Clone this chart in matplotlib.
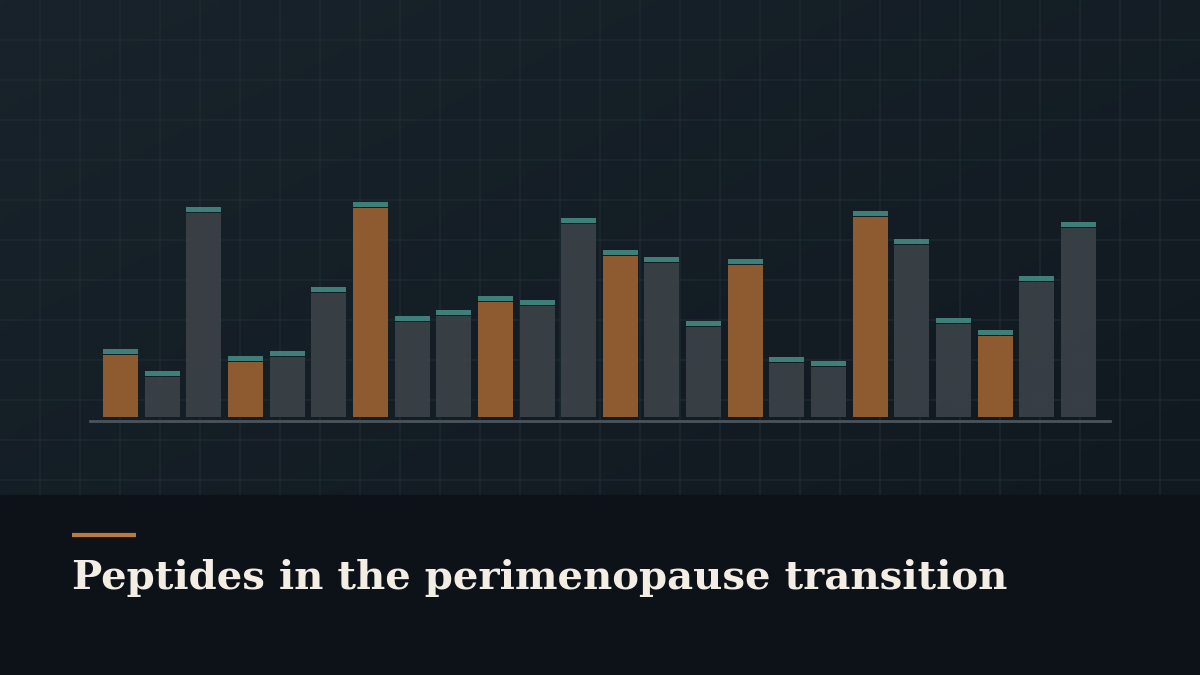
import matplotlib
matplotlib.use("Agg")
import matplotlib.pyplot as plt
import numpy as np

# bar heights (baseline -> top of cap), 24 bars, every third one highlighted
values = [68, 46, 210, 61, 66, 130, 215, 101, 107, 121, 117, 199,
          167, 160, 96, 158, 60, 56, 206, 178, 99, 87, 141, 195]
highlight = [i % 3 == 0 for i in range(len(values))]
title = "Peptides in the perimenopause transition"

W, H = 1200, 675
fig = plt.figure(figsize=(12, 6.75), dpi=100)

# background in pixel coordinates
bg = fig.add_axes([0, 0, 1, 1])
bg.set_xlim(0, W)
bg.set_ylim(H, 0)
bg.axis("off")

# upper panel: soft diagonal gradient
gx, gy = np.meshgrid(np.linspace(0, 1, 240), np.linspace(0, 1, 100))
t = np.clip(0.55 * gx + 0.45 * gy, 0, 1)[..., None]
c0 = np.array([0x18, 0x23, 0x2b]) / 255
c1 = np.array([0x11, 0x19, 0x20]) / 255
bg.imshow(c0 * (1 - t) + c1 * t, extent=[0, W, 495, 0], aspect="auto", zorder=0)

# faint grid every 40 px in the upper panel
for gxp in range(40, W, 40):
    bg.plot([gxp, gxp], [0, 495], color="#223039", lw=1.2, alpha=0.55, zorder=1)
for gyp in range(40, 495, 40):
    bg.plot([0, W], [gyp, gyp], color="#223039", lw=1.2, alpha=0.55, zorder=1)

# lower title panel
bg.add_patch(plt.Rectangle((0, 495), W, H - 495, color="#0d1219", zorder=2))

# accent line + title
bg.plot([72, 136], [535, 535], color="#b87a40", lw=3, solid_capstyle="butt", zorder=3)
txt = bg.text(72, 589, title, color="#f3ede3", fontsize=28, fontweight="bold",
              family="DejaVu Serif", ha="left", va="baseline", zorder=3)
fig.canvas.draw()
w = txt.get_window_extent().width
txt.set_fontsize(28 * 936 / w)

# bar axes: x 90..1110 px, baseline at y=417, 240 px tall
ax = fig.add_axes([90 / W, (H - 417) / H, 1020 / W, 240 / H])
ax.patch.set_alpha(0)
ax.axis("off")
ax.set_ylim(0, 240)
n = len(values)
x = np.arange(n)
ax.set_xlim(-0.732, n - 1 + 0.756)

body_col = ["#8e5b30" if h else "#3c4248" for h in highlight]
body_alpha = [1.0 if h else 0.9 for h in highlight]
for xi, v, c, a in zip(x, values, body_col, body_alpha):
    ax.bar(xi, v - 6, width=0.84, color=c, alpha=a, linewidth=0, zorder=2)
    ax.bar(xi, 5, bottom=v - 5, width=0.84, color="#3e8079", linewidth=0, zorder=3)

# baseline
bg.plot([90, 1110], [420.5, 420.5], color="#4b545b", lw=2, zorder=4)

fig.savefig("out.png", dpi=100)
